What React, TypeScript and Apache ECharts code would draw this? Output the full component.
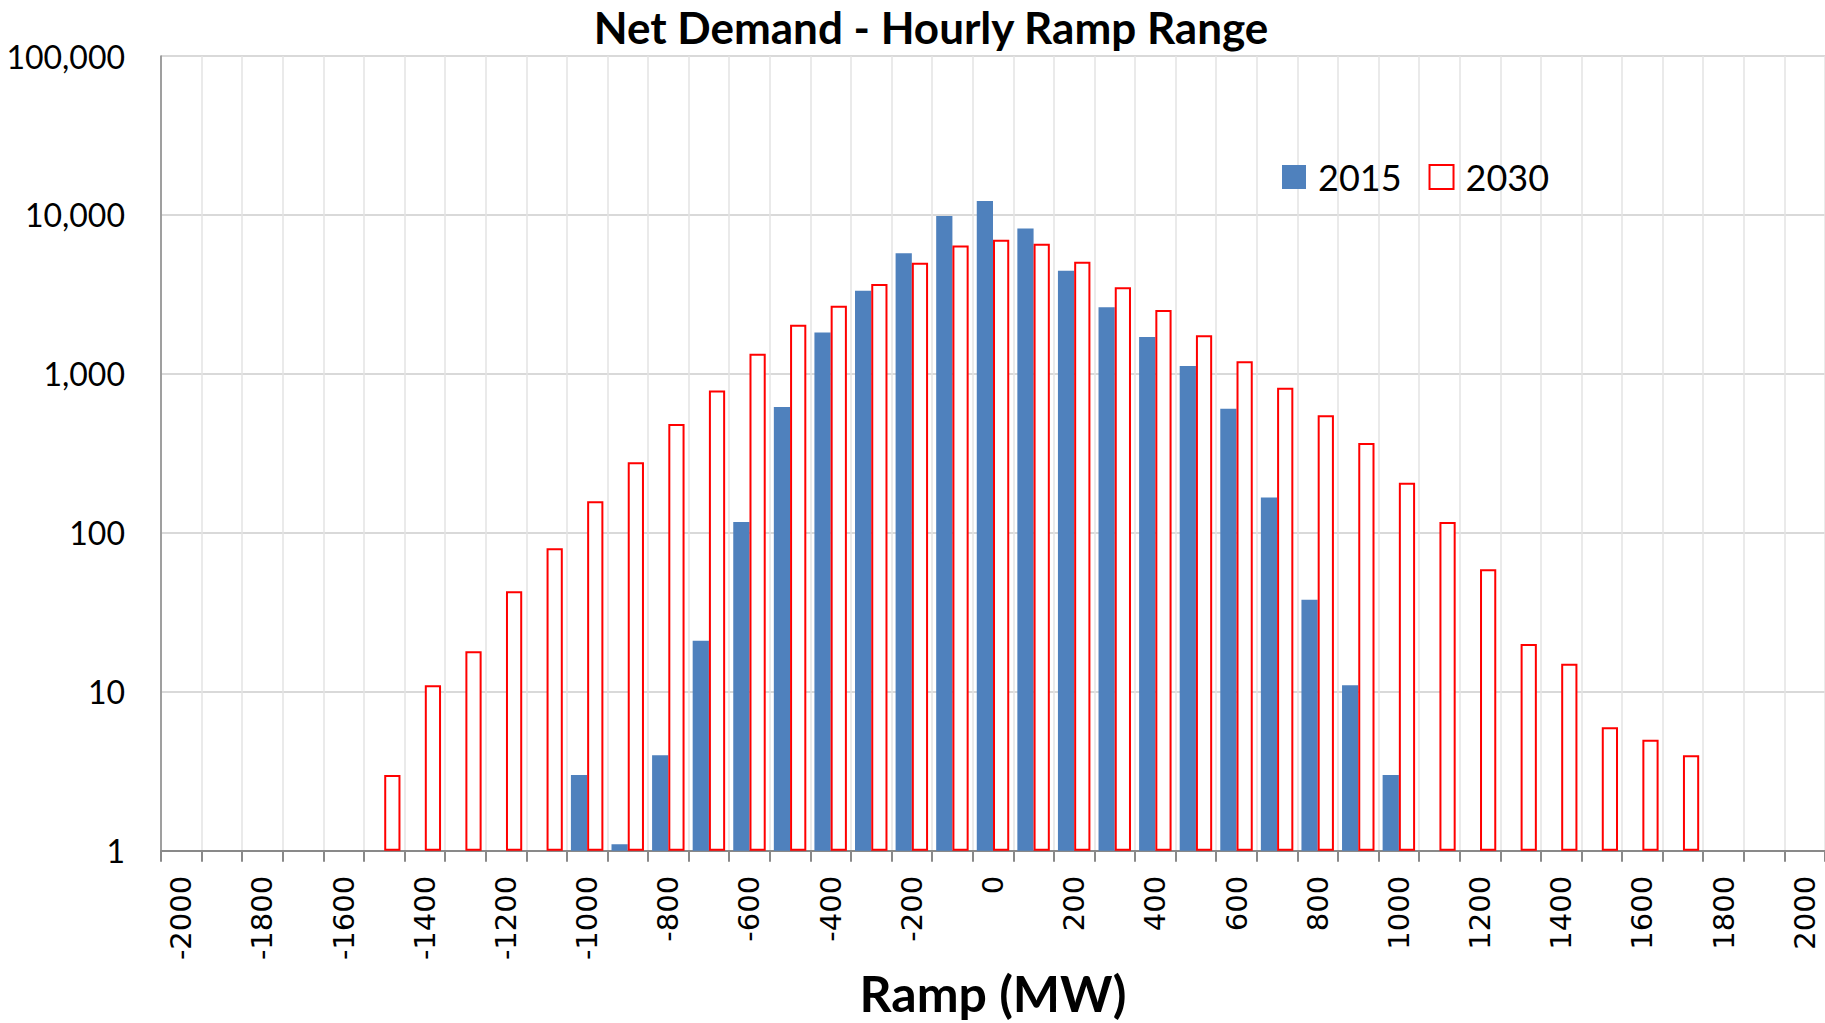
import React, { useEffect, useRef } from "react";
import * as echarts from "echarts";

const categories: string[] = [
  "-2000", "-1900", "-1800", "-1700", "-1600", "-1500", "-1400", "-1300", "-1200", "-1100",
  "-1000", "-900", "-800", "-700", "-600", "-500", "-400", "-300", "-200", "-100",
  "0", "100", "200", "300", "400", "500", "600", "700", "800", "900",
  "1000", "1100", "1200", "1300", "1400", "1500", "1600", "1700", "1800", "1900", "2000",
];

const values2015: (number | null)[] = [
  null, null, null, null, null, null, null, null, null, null,
  3, 1.1, 4, 21, 117, 620, 1820, 3340, 5750, 9840,
  12250, 8220, 4450, 2630, 1710, 1120, 604, 167, 38, 11,
  3, null, null, null, null, null, null, null, null, null, null,
];

const values2030: (number | null)[] = [
  null, null, null, null, null, 3, 11, 18, 43, 80,
  158, 278, 485, 787, 1340, 2040, 2680, 3680, 5000, 6420,
  6980, 6590, 5080, 3510, 2520, 1750, 1200, 818, 549, 368,
  207, 117, 59, 20, 15, 6, 5, 4, null, null, null,
];

const seriesNames = ["2015", "2030"];
const titleText = "Net Demand - Hourly Ramp Range";
const xAxisName = "Ramp (MW)";

export default function App() {
  const ref = useRef<HTMLDivElement>(null);

  useEffect(() => {
    if (!ref.current) return;
    const chart = echarts.init(ref.current, undefined, { renderer: "svg" });
    chart.setOption({
      animation: false,
      backgroundColor: "#ffffff",
      title: {
        text: titleText,
        left: 926,
        top: 0,
        textAlign: "center",
        textStyle: {
          fontFamily: "Lato",
          fontWeight: "bold",
          fontSize: 44,
          color: "#000000",
        },
      },
      legend: {
        data: seriesNames,
        left: 1277,
        top: 154,
        itemWidth: 24,
        itemHeight: 24,
        itemGap: 27,
        icon: "rect",
        textStyle: {
          fontFamily: "Lato",
          fontSize: 36,
          color: "#000000",
          padding: [0, 0, 0, 7],
        },
      },
      grid: {
        left: 161,
        top: 56,
        right: 0,
        bottom: 158,
        containLabel: false,
      },
      xAxis: {
        type: "category",
        data: categories,
        name: xAxisName,
        nameLocation: "middle",
        nameGap: 106,
        nameTextStyle: {
          fontFamily: "Lato",
          fontWeight: "bold",
          fontSize: 50,
          color: "#000000",
        },
        axisLine: { show: true, lineStyle: { color: "#898989", width: 2 } },
        axisTick: {
          show: true,
          interval: 0,
          length: 11,
          lineStyle: { color: "#898989", width: 2 },
        },
        axisLabel: {
          interval: 1,
          rotate: 90,
          margin: 25,
          fontFamily: "DejaVu Sans",
          fontSize: 29,
          color: "#000000",
        },
        splitLine: {
          show: true,
          interval: 0,
          lineStyle: { color: "#e3e3e3", width: 1.5 },
        },
      },
      yAxis: {
        type: "log",
        logBase: 10,
        min: 1,
        max: 100000,
        axisLine: { show: true, lineStyle: { color: "#868686", width: 1.5 } },
        axisTick: { show: false },
        axisLabel: {
          margin: 36,
          fontFamily: "Lato",
          fontSize: 32,
          color: "#000000",
          formatter: (v: number) => Math.round(v).toLocaleString("en-US"),
        },
        splitLine: { show: true, lineStyle: { color: "#d9d9d9", width: 2 } },
      },
      series: [
        {
          name: seriesNames[0],
          type: "bar",
          data: values2015,
          barGap: "0%",
          barCategoryGap: "20%",
          itemStyle: { color: "#4F81BD" },
        },
        {
          name: seriesNames[1],
          type: "bar",
          data: values2030,
          barGap: "0%",
          barCategoryGap: "20%",
          itemStyle: { color: "#ffffff", borderColor: "#FF0000", borderWidth: 2 },
        },
      ],
    });
    return () => chart.dispose();
  }, []);

  return (
    <div
      ref={ref}
      style={{ position: "fixed", left: 0, top: 0, width: 1825, height: 1023 }}
    />
  );
}
